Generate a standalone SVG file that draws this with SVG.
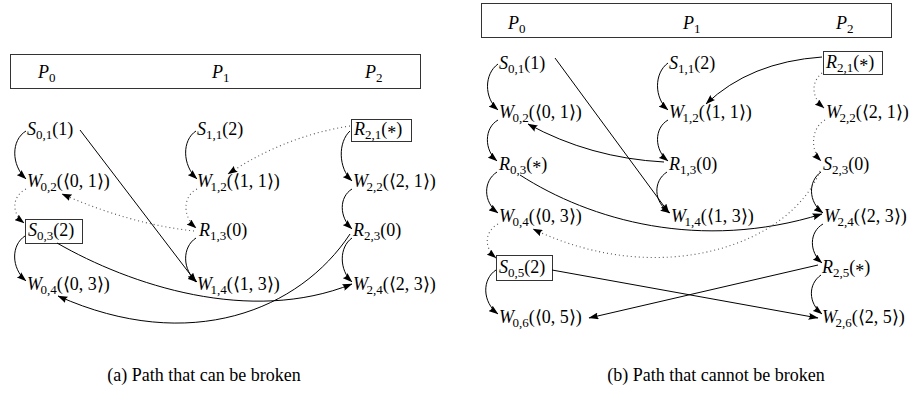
<svg xmlns="http://www.w3.org/2000/svg" width="910" height="394" viewBox="0 0 910 394">
<style>
.t{font-size:18px;fill:#000}
.i{font-style:italic}
.s{font-size:13px}
.cap{font-size:18px;fill:#000}
.box{fill:none;stroke:#333;stroke-width:1}
.e{fill:none;stroke:#000;stroke-width:1;marker-end:url(#ah)}
.d{fill:none;stroke:#555;stroke-width:1.1;stroke-dasharray:1 3;marker-end:url(#ah)}
</style>
<defs>
<marker id="ah" markerUnits="userSpaceOnUse" markerWidth="10" markerHeight="7" viewBox="0 0 10 7" refX="9.5" refY="3.5" orient="auto">
<path d="M0,0 L10,3.5 L0,7 Q2.5,3.5 0,0 z" fill="#000"/>
</marker>
</defs>
<rect x="0" y="0" width="910" height="394" fill="#fff"/>

<g font-family="'Liberation Serif', 'Times New Roman', serif">
<!-- Panel (a) -->
<g id="a-header">
<rect class="box" x="10.5" y="54.5" width="410" height="34"/>
<text class="t" x="38" y="78"><tspan class="i">P</tspan><tspan class="s" dy="4">0</tspan></text>
<text class="t" x="212" y="78"><tspan class="i">P</tspan><tspan class="s" dy="4">1</tspan></text>
<text class="t" x="365" y="78"><tspan class="i">P</tspan><tspan class="s" dy="4">2</tspan></text>
</g>
<g id="a-S01"><text class="t" x="27" y="135"><tspan class="i">S</tspan><tspan class="s" dy="4">0,1</tspan><tspan dy="-4">(1)</tspan></text></g>
<g id="a-S11"><text class="t" x="197" y="135"><tspan class="i">S</tspan><tspan class="s" dy="4">1,1</tspan><tspan dy="-4">(2)</tspan></text></g>
<g id="a-R21"><rect class="box" x="351.5" y="119.5" width="60" height="22"/><text class="t" x="354" y="135"><tspan class="i">R</tspan><tspan class="s" dy="4">2,1</tspan><tspan dy="-4">(</tspan><tspan dy="4">*</tspan><tspan dy="-4">)</tspan></text></g>
<g id="a-W02"><text class="t" x="27" y="187"><tspan class="i">W</tspan><tspan class="s" dx="-1.5" dy="4">0,2</tspan><tspan dy="-4">(⟨0, 1⟩)</tspan></text></g>
<g id="a-W12"><text class="t" x="197" y="187"><tspan class="i">W</tspan><tspan class="s" dx="-1.5" dy="4">1,2</tspan><tspan dy="-4">(⟨1, 1⟩)</tspan></text></g>
<g id="a-W22"><text class="t" x="353" y="187"><tspan class="i">W</tspan><tspan class="s" dx="-1.5" dy="4">2,2</tspan><tspan dy="-4">(⟨2, 1⟩)</tspan></text></g>
<g id="a-S03"><rect class="box" x="25.5" y="219.5" width="57" height="24"/><text class="t" x="28" y="236"><tspan class="i">S</tspan><tspan class="s" dy="4">0,3</tspan><tspan dy="-4">(2)</tspan></text></g>
<g id="a-R13"><text class="t" x="199" y="236"><tspan class="i">R</tspan><tspan class="s" dy="4">1,3</tspan><tspan dy="-4">(0)</tspan></text></g>
<g id="a-R23"><text class="t" x="353" y="236"><tspan class="i">R</tspan><tspan class="s" dy="4">2,3</tspan><tspan dy="-4">(0)</tspan></text></g>
<g id="a-W04"><text class="t" x="27" y="290"><tspan class="i">W</tspan><tspan class="s" dx="-1.5" dy="4">0,4</tspan><tspan dy="-4">(⟨0, 3⟩)</tspan></text></g>
<g id="a-W14"><text class="t" x="197" y="290"><tspan class="i">W</tspan><tspan class="s" dx="-1.5" dy="4">1,4</tspan><tspan dy="-4">(⟨1, 3⟩)</tspan></text></g>
<g id="a-W24"><text class="t" x="353" y="290"><tspan class="i">W</tspan><tspan class="s" dx="-1.5" dy="4">2,4</tspan><tspan dy="-4">(⟨2, 3⟩)</tspan></text></g>

<!-- Panel (b) -->
<g id="b-header">
<rect class="box" x="481.5" y="3.5" width="410" height="34"/>
<text class="t" x="508" y="29"><tspan class="i">P</tspan><tspan class="s" dy="4">0</tspan></text>
<text class="t" x="683" y="29"><tspan class="i">P</tspan><tspan class="s" dy="4">1</tspan></text>
<text class="t" x="836" y="29"><tspan class="i">P</tspan><tspan class="s" dy="4">2</tspan></text>
</g>
<g id="b-S01"><text class="t" x="499" y="69"><tspan class="i">S</tspan><tspan class="s" dy="4">0,1</tspan><tspan dy="-4">(1)</tspan></text></g>
<g id="b-S11"><text class="t" x="669" y="69"><tspan class="i">S</tspan><tspan class="s" dy="4">1,1</tspan><tspan dy="-4">(2)</tspan></text></g>
<g id="b-R21"><rect class="box" x="823.5" y="51.5" width="59" height="23"/><text class="t" x="826" y="68"><tspan class="i">R</tspan><tspan class="s" dy="4">2,1</tspan><tspan dy="-4">(</tspan><tspan dy="4">*</tspan><tspan dy="-4">)</tspan></text></g>
<g id="b-W02"><text class="t" x="499" y="118"><tspan class="i">W</tspan><tspan class="s" dx="-1.5" dy="4">0,2</tspan><tspan dy="-4">(⟨0, 1⟩)</tspan></text></g>
<g id="b-W12"><text class="t" x="669" y="118"><tspan class="i">W</tspan><tspan class="s" dx="-1.5" dy="4">1,2</tspan><tspan dy="-4">(⟨1, 1⟩)</tspan></text></g>
<g id="b-W22"><text class="t" x="826" y="118"><tspan class="i">W</tspan><tspan class="s" dx="-1.5" dy="4">2,2</tspan><tspan dy="-4">(⟨2, 1⟩)</tspan></text></g>
<g id="b-R03"><text class="t" x="499" y="170"><tspan class="i">R</tspan><tspan class="s" dy="4">0,3</tspan><tspan dy="-4">(</tspan><tspan dy="4">*</tspan><tspan dy="-4">)</tspan></text></g>
<g id="b-R13"><text class="t" x="669" y="170"><tspan class="i">R</tspan><tspan class="s" dy="4">1,3</tspan><tspan dy="-4">(0)</tspan></text></g>
<g id="b-S23"><text class="t" x="823" y="170"><tspan class="i">S</tspan><tspan class="s" dy="4">2,3</tspan><tspan dy="-4">(0)</tspan></text></g>
<g id="b-W04"><text class="t" x="499" y="222"><tspan class="i">W</tspan><tspan class="s" dx="-1.5" dy="4">0,4</tspan><tspan dy="-4">(⟨0, 3⟩)</tspan></text></g>
<g id="b-W14"><text class="t" x="671" y="222"><tspan class="i">W</tspan><tspan class="s" dx="-1.5" dy="4">1,4</tspan><tspan dy="-4">(⟨1, 3⟩)</tspan></text></g>
<g id="b-W24"><text class="t" x="824" y="222"><tspan class="i">W</tspan><tspan class="s" dx="-1.5" dy="4">2,4</tspan><tspan dy="-4">(⟨2, 3⟩)</tspan></text></g>
<g id="b-S05"><rect class="box" x="496.5" y="255.5" width="56" height="25"/><text class="t" x="499" y="273"><tspan class="i">S</tspan><tspan class="s" dy="4">0,5</tspan><tspan dy="-4">(2)</tspan></text></g>
<g id="b-R25"><text class="t" x="822" y="273"><tspan class="i">R</tspan><tspan class="s" dy="4">2,5</tspan><tspan dy="-4">(</tspan><tspan dy="4">*</tspan><tspan dy="-4">)</tspan></text></g>
<g id="b-W06"><text class="t" x="499" y="323"><tspan class="i">W</tspan><tspan class="s" dx="-1.5" dy="4">0,6</tspan><tspan dy="-4">(⟨0, 5⟩)</tspan></text></g>
<g id="b-W26"><text class="t" x="822" y="323"><tspan class="i">W</tspan><tspan class="s" dx="-1.5" dy="4">2,6</tspan><tspan dy="-4">(⟨2, 5⟩)</tspan></text></g>

<text class="cap" x="204" y="381" text-anchor="middle">(a) Path that can be broken</text>
<text class="cap" x="716" y="381" text-anchor="middle">(b) Path that cannot be broken</text>
</g>

<g id="connectors">
<!-- (a) -->
<path class="e" d="M26,131 C11,140 11,165 26,179"/>
<path class="d" d="M26,189 C12,196 11,213 24,223"/>
<path class="e" d="M25,236 C11,245 11,268 26,281"/>
<path class="e" d="M80,130 L196,282"/>
<path class="e" d="M196,131 C182,140 182,165 197,179"/>
<path class="d" d="M350,126 Q285,136 228,174"/>
<path class="d" d="M197,189 C183,196 182,216 196,228"/>
<path class="d" d="M194,231 Q130,224 62,194"/>
<path class="e" d="M196,238 C182,247 182,270 197,282"/>
<path class="e" d="M350,131 C338,142 338,168 352,181"/>
<path class="e" d="M352,189 C339,197 339,217 352,229"/>
<path class="e" d="M352,238 C339,247 339,270 352,282"/>
<path class="e" d="M57,243 C130,285 250,325 352,284"/>
<path class="e" d="M350,234 C300,310 190,355 58,296"/>
<!-- (b) -->
<path class="e" d="M498,64 C484,74 484,98 498,110"/>
<path class="e" d="M498,120 C484,128 484,150 497,161"/>
<path class="e" d="M497,172 C483,181 483,202 498,213"/>
<path class="d" d="M498,224 C484,232 484,248 496,258"/>
<path class="e" d="M496,270 C482,279 482,302 498,314"/>
<path class="e" d="M555,58 L669,213"/>
<path class="e" d="M668,63 C654,73 654,98 668,110"/>
<path class="e" d="M668,120 C654,128 654,150 668,161"/>
<path class="e" d="M667,172 C653,181 653,202 670,213"/>
<path class="e" d="M664,162 Q590,158 528,124"/>
<path class="e" d="M822,57 Q750,62 706,104"/>
<path class="d" d="M822,73 C811,82 811,97 824,108"/>
<path class="d" d="M825,120 C811,128 810,150 821,161"/>
<path class="e" d="M821,172 C808,181 808,202 823,213"/>
<path class="e" d="M823,224 C809,232 809,252 822,263"/>
<path class="e" d="M821,275 C808,284 808,303 822,314"/>
<path class="e" d="M520,175 C590,220 700,252 822,214"/>
<path class="d" d="M820,171 C790,245 660,290 533,229"/>
<path class="e" d="M552,270 L818,318"/>
<path class="e" d="M818,265 L589,318"/>
</g>
</svg>
